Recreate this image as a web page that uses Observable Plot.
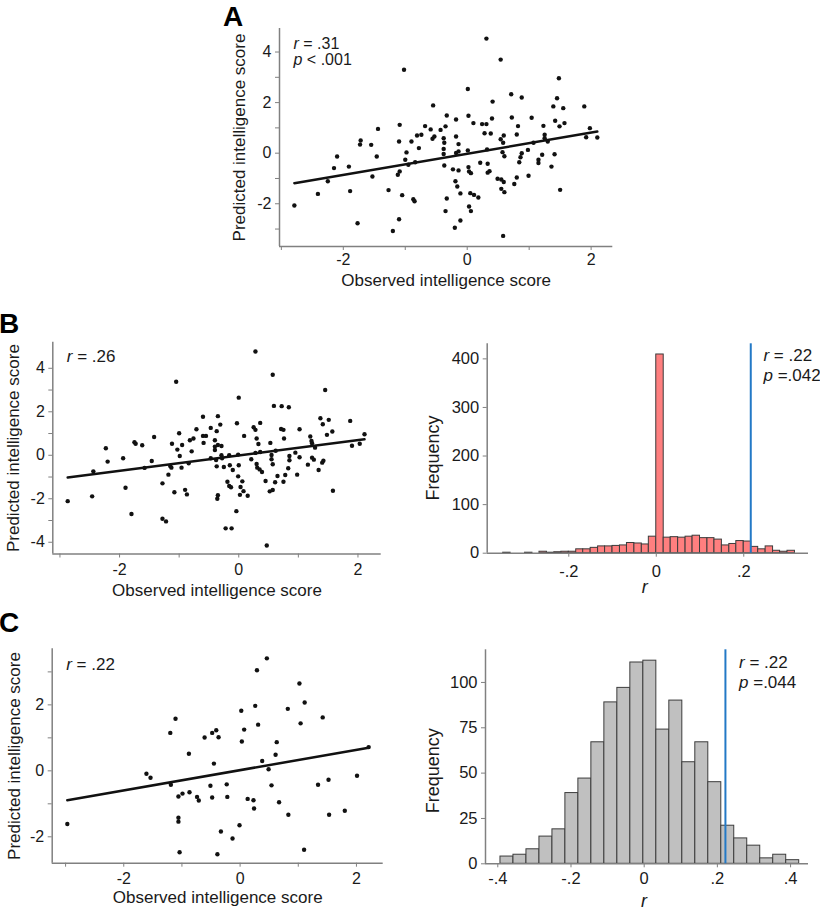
<!DOCTYPE html>
<html><head><meta charset="utf-8">
<script src="https://cdn.jsdelivr.net/npm/d3@7"></script>
<script src="https://cdn.jsdelivr.net/npm/@observablehq/plot@0.6"></script>
<style>
body{margin:0;background:#fff;}
#root{position:relative;width:820px;height:911px;overflow:hidden;background:#fff;}
</style></head><body><div id="root"></div>
<script>
// ---------- DATA ----------
// Panel A: observed vs predicted intelligence score
const obsA = [-1.02,-0.55,-0.33,-1.44,-1.09,-0.68,-0.59,-0.43,-0.35,-1.72,-1.73,-1.55,-1.10,-0.81,-0.74,-0.90,-0.56,-0.53,-0.38,-0.37,-0.38,-0.38,-0.78,-0.98,-1.46,-2.10,-2.15,-1.91,-1.00,-0.95,-0.84,-1.09,-1.12,-1.53,-2.25,-2.41,-1.89,-2.79,-1.27,-1.05,-0.87,-0.85,-0.33,-0.35,-1.77,-1.10,-1.20,-0.37,
  0.31,0.54,1.48,0.01,0.71,0.88,0.41,1.45,1.39,1.55,1.89,0.02,-0.18,0.10,0.24,0.31,0.40,0.72,0.82,1.04,1.23,1.42,1.57,1.49,0.28,0.38,0.59,0.80,0.54,0.58,1.25,1.25,1.30,1.98,1.92,2.10,-0.18,-0.14,-0.18,-0.14,0.01,0.32,0.57,0.60,0.88,0.86,0.84,0.98,1.07,1.21,1.15,1.15,1.36,1.41,-0.23,-0.14,0.02,0.03,0.06,0.21,0.33,0.36,0.33,0.49,0.55,0.59,0.80,0.76,0.99,-0.19,-0.16,-0.11,0.05,0.11,0.18,0.55,0.60,1.50,0.03,0.06,-0.11,-0.20,0.58];
const predA = [3.30,1.89,1.49,0.96,1.12,1.07,0.94,0.92,1.06,0.50,0.34,0.33,0.46,0.70,0.73,0.46,0.57,0.66,0.59,0.41,0.17,-0.03,0.20,0.03,-0.13,-0.13,-0.59,-0.53,-0.26,-0.46,-0.36,-0.72,-0.85,-0.92,-1.11,-1.61,-1.50,-2.07,-1.46,-1.66,-1.82,-1.90,-1.79,-2.29,-2.77,-2.61,-3.08,-0.49,
  4.53,3.70,2.96,2.54,2.33,2.20,2.04,2.17,1.85,1.78,1.85,1.48,1.33,1.19,1.15,1.15,1.37,1.41,1.07,1.40,1.08,1.28,1.19,1.06,0.79,0.78,0.70,0.74,0.55,0.41,0.73,0.59,0.46,0.99,0.63,0.62,0.66,0.36,0.01,0.07,0.11,0.15,0.04,-0.12,0.00,-0.16,-0.36,0.13,0.41,-0.06,-0.26,-0.39,-0.53,-0.04,-0.64,-0.68,-0.55,-0.72,-0.79,-0.38,-0.42,-0.71,-0.77,-1.01,-1.04,-1.14,-0.96,-1.22,-0.89,-1.11,-1.32,-1.59,-1.58,-1.65,-1.75,-1.41,-1.54,-1.45,-2.11,-2.29,-2.66,-2.95,-3.27];
const fitA = [-0.022, 0.417];           // intercept, slope
const annotA = ["r = .31", "p < .001"];

// Panel B (left): scatter
const obsB = [-1.05,-2.87,-2.46,-2.44,-2.23,-2.20,-1.94,-1.90,-1.80,-1.75,-1.73,-1.62,-1.58,-1.42,-1.46,-1.28,-1.28,-1.22,-1.18,-1.15,-1.13,-1.12,-1.08,-1.03,-1.00,-0.99,-0.96,-0.95,-0.90,-0.87,-0.84,-0.82,-0.79,-0.76,-0.71,
  0.28,0.57,1.45,0.00,0.59,0.72,0.84,-0.60,-0.35,-0.31,-0.47,-0.37,-0.60,-0.55,-0.03,0.25,0.28,0.36,0.09,0.30,0.71,0.75,0.76,1.02,1.37,1.51,1.41,1.57,1.48,1.87,2.11,1.20,1.22,1.23,1.90,2.03,1.28,-0.59,-0.40,-0.40,-0.40,-0.35,-0.29,-0.47,-0.38,-0.29,-0.28,-0.16,-0.01,-0.37,-0.25,-0.15,-0.10,0.00,-0.01,0.06,-0.19,-0.16,-0.13,0.03,0.08,0.15,0.02,-0.35,-0.36,-0.04,-0.22,-0.12,0.47,0.21,0.30,0.31,0.35,0.39,0.33,0.36,0.28,0.53,0.55,0.55,0.57,0.62,0.45,0.52,0.57,0.61,0.65,0.75,0.78,0.83,0.85,0.85,0.98,0.95,1.02,1.16,1.23,1.26,1.34,1.40,1.42,1.58];
const predB = [3.38,-2.11,-1.89,-0.74,0.32,-0.29,-0.14,-1.49,-2.70,0.60,0.53,0.46,-0.58,0.84,-0.26,-1.29,-2.92,-3.04,-0.89,-0.49,-0.57,0.53,-1.70,0.26,1.01,-0.03,-0.57,0.47,-1.59,-1.80,-0.37,0.69,0.18,0.77,1.20,
  4.77,3.70,3.00,2.65,2.27,2.26,2.21,1.77,1.80,1.41,1.26,1.11,0.89,0.89,1.47,1.29,1.17,1.49,0.89,0.77,1.21,1.17,0.77,1.20,1.70,1.63,1.43,1.09,0.94,1.58,0.97,0.86,0.66,0.55,0.44,0.53,0.35,0.57,0.69,0.40,0.24,0.47,0.43,-0.14,-0.22,0.00,-0.14,0.00,0.03,-0.51,-0.54,-0.46,-0.68,-0.46,-0.97,-1.20,-1.22,-1.41,-1.47,-1.46,-1.65,-1.86,-1.82,-1.84,-2.00,-2.57,-3.36,-3.36,-4.15,-0.18,-0.40,-0.57,-0.65,-0.77,0.52,0.15,0.11,0.57,0.01,-0.18,-0.41,0.21,-1.18,-1.66,-1.60,-1.24,-0.95,-1.22,-0.91,-0.60,-0.23,-0.03,-0.89,0.12,-0.09,-0.43,-0.11,-0.20,-0.68,-0.34,-0.25,-1.63];
const fitB = [-0.013, 0.353];
const annotB = ["r = .26"];

// Panel B (right): permutation histogram (bin edges + counts)
const edgesB = [-0.350,-0.333,-0.317,-0.300,-0.283,-0.267,-0.250,-0.233,-0.217,-0.200,-0.183,-0.167,-0.150,-0.133,-0.117,-0.100,-0.083,-0.067,-0.050,-0.033,-0.017,0.000,0.017,0.033,0.050,0.067,0.083,0.100,0.117,0.133,0.150,0.167,0.183,0.200,0.217,0.233,0.250,0.267,0.283,0.300,0.317];
const countsB = [1,0,0,1,0,3,1,2,3,3,8,8,11,14,14,15,16,21,20,18,34,409,32,33,32,34,36,31,31,28,16,19,25,24,13,8,14,5,3,5];
const observedRB = 0.216;
const annotHB = ["r = .22", "p =.042"];

// Panel C (left): scatter
const obsC = [-2.97,-1.61,-1.54,-1.20,-1.11,-1.19,-1.06,-1.06,-1.06,-1.04,-0.99,-0.88,-0.87,-0.74,-0.71,-0.61,-0.51,-0.48,-0.48,-0.45,-0.41,-0.37,-0.39,-0.33,-0.23,-0.22,-0.13,-0.01,0.02,0.03,0.07,0.13,0.23,0.24,0.26,0.29,0.31,0.38,0.46,0.49,0.54,0.61,0.63,0.67,0.82,0.83,1.02,1.04,1.11,1.10,1.34,1.42,1.52,1.53,1.80,2.01,2.21];
const predC = [-1.61,-0.09,-0.21,1.15,1.58,-0.42,-0.78,-1.42,-1.54,-2.47,-0.69,0.52,-0.65,-0.79,-0.90,1.01,-0.45,-0.81,1.15,0.22,1.23,1.02,-2.53,-1.84,-0.41,-0.79,-2.05,-1.65,1.82,0.89,1.25,-0.85,-0.89,-1.14,1.97,3.05,1.40,0.30,3.41,0.05,-0.44,0.49,0.87,-0.95,1.88,-1.33,2.65,1.44,2.07,-2.39,-0.42,1.62,-0.27,-1.33,-1.21,-0.15,0.72];
const fitC = [0.021, 0.307];
const annotC = ["r = .22"];

// Panel C (right): permutation histogram
const edgesC = [-0.3927,-0.3572,-0.3217,-0.2862,-0.2507,-0.2153,-0.1798,-0.1443,-0.1088,-0.0733,-0.0378,-0.0023,0.0332,0.0687,0.1042,0.1397,0.1752,0.2107,0.2461,0.2816,0.3171,0.3526,0.3881,0.4236];
const countsC = [4,5,8,15,19,39,47,67,89,97,111,112,74,90,56,67,45,21,14,10,3,5,2];
const observedRC = 0.222;
const annotHC = ["r = .22", "p =.044"];

// Tick values and labels
const xMajorS = [-2, 0, 2], xMinorS = [-3, -1, 1];
const yMajorA = [-2, 0, 2, 4], yMinorA = [-3, -1, 1, 3];
const yMajorB = [-4, -2, 0, 2, 4], yMinorB = [-3, -1, 1, 3];
const yMajorC = [-2, 0, 2], yMinorC = [-1, 1, 3];
const xTicksHB = [-0.2, 0, 0.2], yTicksHB = [0, 100, 200, 300, 400];
const xTicksHC = [-0.4, -0.2, 0, 0.2, 0.4], yTicksHC = [0, 25, 50, 75, 100];
const xTitleS = "Observed intelligence score", yTitleS = "Predicted intelligence score";
const xTitleH = "r", yTitleH = "Frequency";
const panelLetters = ["A", "B", "C"];

// ---------- RENDER ----------
const root = document.getElementById("root");
const AXIS = "#808080", INK = "#1a1a1a", FONT = "'Liberation Sans', Arial, Helvetica, sans-serif";
const BLUE = "#2379c6";
const fmtInt = d => (d < 0 ? "-" : "") + Math.abs(d);
const fmtR = d => d === 0 ? "0" : (d < 0 ? "-" : "") + String(Math.abs(d)).replace(/^0/, "");

function place(frame, tickFs, opts) {
  const {L, R, T, B} = frame;
  const left = Math.max(0, Math.floor(L - 70)), top = Math.max(0, Math.floor(T - 15));
  const width = Math.min(820, Math.ceil(R + 12)) - left;
  const height = Math.ceil(B + 55) - top;
  const svg = Plot.plot({
    width, height,
    marginLeft: L - left, marginRight: width - (R - left),
    marginTop: T - top, marginBottom: height - (B - top),
    style: {fontFamily: FONT, fontSize: "15px", background: "none", overflow: "visible", color: INK},
    ...opts
  });
  svg.style.position = "absolute";
  svg.style.left = left + "px";
  svg.style.top = top + "px";
  svg.style.maxWidth = "none";
  // tick label size
  svg.querySelectorAll('g[aria-label$="tick label"]').forEach(g => {
    g.setAttribute("font-size", tickFs);
    g.style.fontSize = tickFs + "px";
    g.querySelectorAll("text").forEach(t => { t.style.fontSize = tickFs + "px"; });
  });
  // italic statistic letters
  const ns = "http://www.w3.org/2000/svg";
  svg.querySelectorAll('g[aria-description="annotation"] text').forEach(t => {
    const s = t.textContent; t.textContent = "";
    const a = document.createElementNS(ns, "tspan"); a.setAttribute("font-style", "italic"); a.textContent = s[0];
    const b = document.createElementNS(ns, "tspan"); b.textContent = s.slice(1);
    t.append(a, b);
  });
  root.appendChild(svg);
}

function axes(xd, yd, {xMajor, xMinor = [], yMajor, yMinor = [], xFmt, yFmt, xPad = 3}) {
  const m = [
    Plot.ruleY([yd[0]], {stroke: AXIS, strokeWidth: 1.5}),
    Plot.ruleX([xd[0]], {stroke: AXIS, strokeWidth: 1.5}),
    Plot.axisX({ticks: xMajor, tickFormat: xFmt, tickSize: 4, tickPadding: xPad, stroke: AXIS, fill: INK, label: null}),
    Plot.axisY({ticks: yMajor, tickFormat: yFmt, tickSize: 4, tickPadding: 4, stroke: AXIS, fill: INK, label: null})
  ];
  if (xMinor.length) m.push(Plot.axisX({ticks: xMinor, tickFormat: () => "", tickSize: 4, stroke: AXIS, label: null}));
  if (yMinor.length) m.push(Plot.axisY({ticks: yMinor, tickFormat: () => "", tickSize: 4, stroke: AXIS, label: null}));
  return m;
}
const xTitle = (s, dy, o = {}) => Plot.text([s], {text: d => d, frameAnchor: "bottom", textAnchor: "middle", dy, lineAnchor: "bottom", fontSize: 17, fill: INK, ...o});
const yTitle = (s, dx, o = {}) => Plot.text([s], {text: d => d, frameAnchor: "left", textAnchor: "middle", rotate: -90, dx, lineAnchor: "middle", fontSize: 17, fill: INK, ...o});
const annot = (lines, {x, dx, dy, gap = 0, fontSize = 16}) => lines.map((s, i) => Plot.text([s], {
  ...(x === undefined ? {frameAnchor: "top-left"} : {x: () => x, frameAnchor: "top"}),
  text: d => d, dx, dy: dy + i * gap, textAnchor: "start", lineAnchor: "bottom",
  fontSize, fill: INK, ariaDescription: "annotation"
}));
const fitLine = (xs, [a, b]) => [d3.min(xs), d3.max(xs)].map(x => ({x, y: a + b * x}));
const bins = (edges, counts) => counts.map((c, i) => ({x1: edges[i], x2: edges[i + 1], y: c})).filter(d => d.y > 0);

function scatter(frame, xd, yd, xs, ys, fit, lines, o) {
  place(frame, 16, {
    x: {domain: xd}, y: {domain: yd},
    marks: [
      ...axes(xd, yd, {xMajor: xMajorS, xMinor: xMinorS, yMajor: o.yMajor, yMinor: o.yMinor, xFmt: fmtInt, yFmt: fmtInt, xPad: o.xPad}),
      Plot.dot(xs, {x: xs, y: ys, r: 2.2, fill: "#111"}),
      Plot.line(fitLine(xs, fit), {x: "x", y: "y", stroke: "#111", strokeWidth: 2.5}),
      xTitle(xTitleS, o.tdy),
      yTitle(yTitleS, o.tdx),
      ...annot(lines, {dx: 14, dy: o.ady, gap: 15.7, fontSize: o.afs})
    ]
  });
}

function hist(frame, xd, yd, edges, counts, fill, obsR, lines, o) {
  place(frame, 16.5, {
    x: {domain: xd}, y: {domain: yd},
    marks: [
      Plot.rectY(bins(edges, counts), {x1: "x1", x2: "x2", y: "y", fill, stroke: "#3c3c3c", strokeWidth: 1}),
      ...axes(xd, yd, {xMajor: o.xTicks, yMajor: o.yTicks, xFmt: fmtR, yFmt: fmtInt, xPad: o.xPad}),
      Plot.ruleX([obsR], {stroke: BLUE, strokeWidth: 2}),
      ...annot(lines, {x: obsR, dx: o.adx, dy: o.ady, gap: o.gap, fontSize: 17}),
      xTitle(xTitleH, o.tdy, {fontStyle: "italic", fontSize: 18, dx: -3}),
      yTitle(yTitleH, o.tdx, {fontSize: 18, dy: o.tdy2})
    ]
  });
}

scatter({L: 279, R: 612.3, T: 28, B: 246}, [-3.03, 2.35], [-3.69, 4.93], obsA, predA, fitA, annotA,
  {yMajor: yMajorA, yMinor: yMinorA, xPad: 3, tdy: 39, tdx: -39.5, ady: 20.3, afs: 16});
scatter({L: 52.3, R: 380.7, T: 341.7, B: 553.5}, [-3.12, 2.39], [-4.54, 5.20], obsB, predB, fitB, annotB,
  {yMajor: yMajorB, yMinor: yMinorB, xPad: 6, tdy: 41.5, tdx: -39.5, ady: 20, afs: 17});
scatter({L: 51.7, R: 382.7, T: 648.3, B: 862.7}, [-3.23, 2.46], [-2.80, 3.70], obsC, predC, fitC, annotC,
  {yMajor: yMajorC, yMinor: yMinorC, xPad: 5, tdy: 39.5, tdx: -37.5, ady: 20.7, afs: 17});
hist({L: 486.7, R: 808, T: 343.3, B: 552.7}, [-0.3865, 0.348], [0, 431], edgesB, countsB, "#ff7f7f", observedRB, annotHB,
  {xTicks: xTicksHB, yTicks: yTicksHB, xPad: 8, adx: 12.7, ady: 17.4, gap: 19.5, tdy: 40, tdx: -53.6, tdy2: 9.5});
hist({L: 485, R: 808, T: 649.3, B: 863.3}, [-0.4336, 0.449], [0, 118], edgesC, countsC, "#c0c0c0", observedRC, annotHC,
  {xTicks: xTicksHC, yTicks: yTicksHC, xPad: 4, adx: 13.6, ady: 18, gap: 20, tdy: 43, tdx: -52, tdy2: 14});

// Panel letters
const overlay = d3.select(root).append("svg")
  .attr("width", 820).attr("height", 911)
  .style("position", "absolute").style("left", "0px").style("top", "0px").style("pointer-events", "none");
overlay.selectAll("text").data(panelLetters).join("text")
  .attr("x", (d, i) => [223, -1, -1][i])
  .attr("y", (d, i) => [25.5, 333, 631.5][i])
  .attr("font-family", FONT).attr("font-weight", "bold").attr("font-size", 28).attr("fill", "#000")
  .text(d => d);
</script></body></html>
